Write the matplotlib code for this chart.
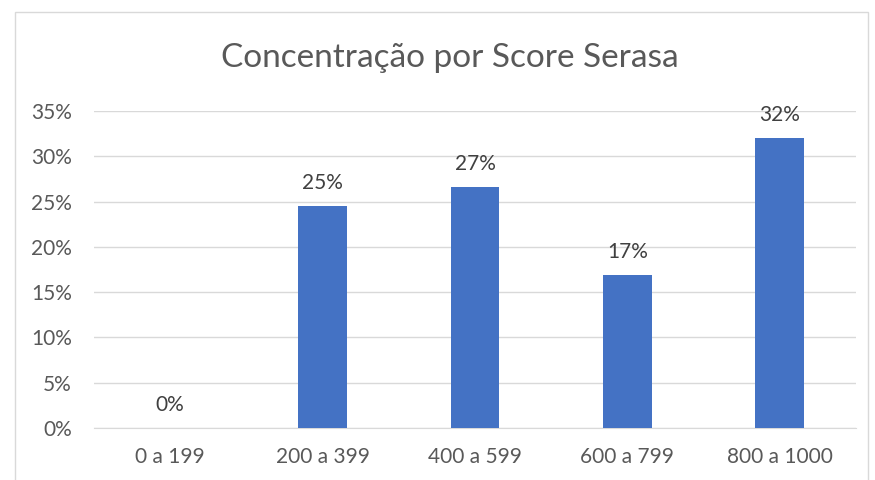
import matplotlib.pyplot as plt
from matplotlib.patches import Rectangle
from matplotlib.ticker import FuncFormatter

categories = ["0 a 199", "200 a 399", "400 a 599", "600 a 799", "800 a 1000"]
values = [0.0, 0.245, 0.266, 0.169, 0.320]
labels = ["0%", "25%", "27%", "17%", "32%"]

plt.rcParams["font.family"] = ["Lato", "DejaVu Sans"]
gray = "#595959"

fig = plt.figure(figsize=(8.75, 4.8), dpi=100)
fig.patches.append(Rectangle((15 / 875, -0.01), 853 / 875, 1 - 12 / 480 + 0.01,
                             transform=fig.transFigure, fill=False,
                             edgecolor="#d9d9d9", linewidth=1))
ax = fig.add_axes([94 / 875, 1 - 428 / 480, 762 / 875, 317 / 480])

x = range(len(categories))
ax.bar(x, values, width=0.32, color="#4472c4", zorder=3)
for i, (v, lab) in enumerate(zip(values, labels)):
    ax.text(i, v + 0.014, lab, ha="center", va="bottom", fontsize=15, color="#404040")

ax.set_xlim(-0.5, len(categories) - 0.5)
ax.set_ylim(0, 0.35)
ax.set_yticks([i * 0.05 for i in range(8)])
ax.yaxis.set_major_formatter(FuncFormatter(lambda v, p: f"{round(v * 100)}%"))
ax.set_xticks(list(x))
ax.set_xticklabels(categories)
ax.tick_params(axis="both", length=0, labelsize=15, labelcolor=gray)
ax.tick_params(axis="x", pad=14)
ax.tick_params(axis="y", pad=16)
ax.grid(axis="y", color="#d9d9d9", linewidth=1, zorder=0)
for s in ["top", "right", "left"]:
    ax.spines[s].set_visible(False)
ax.spines["bottom"].set_color("#d9d9d9")

fig.text(450 / 875, 1 - 58 / 480, "Concentração por Score Serasa", ha="center", va="center",
         fontsize=24, color=gray)

fig.savefig("out.png", dpi=100)
